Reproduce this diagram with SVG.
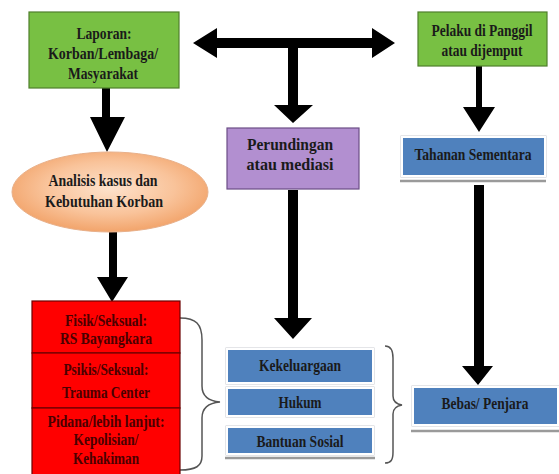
<svg xmlns="http://www.w3.org/2000/svg" width="559" height="474" viewBox="0 0 559 474">
<style>
text{font-family:"Liberation Serif","Times New Roman",serif;font-weight:bold;font-size:16px;text-anchor:middle;fill:#1a1a1a}
.green{fill:#78c043;stroke:#4f7f2c;stroke-width:1.2}
.purple{fill:#b28fd0;stroke:#6c4e86;stroke-width:1.2}
.blue{fill:#4f81bd;stroke:#ffffff;stroke-width:2}
.blueo{fill:none;stroke:#c9ccd2;stroke-width:1}
.shadow{stroke:#9a9a9a;stroke-width:2.5}
.red{fill:#ff0000;stroke:#6b0000;stroke-width:1.2}
.rt{fill:#4a0000}
.arr{fill:#000}
.brace{fill:none;stroke:#555;stroke-width:1.5}
</style>
<defs>
<radialGradient id="peach" cx="50%" cy="45%" r="55%">
<stop offset="0" stop-color="#fde2cc"/>
<stop offset="0.6" stop-color="#f9c39a"/>
<stop offset="1" stop-color="#f2a46b"/>
</radialGradient>
</defs>
<rect width="559" height="474" fill="#fff"/>

<g id="connectors">
<polygon class="arr" points="193,43 217,28 217,38 372,38 372,28 395,43 372,58 372,48 298,48 298,105 313,105 293,123 274,105 288,105 288,48 217,48 217,58"/>
<polygon class="arr" points="102,88 110,88 110,117 125,117 107,152 90,117 102,117"/>
<polygon class="arr" points="109,232 117,232 117,277 128,277 112,302 97,277 109,277"/>
<polygon class="arr" points="288,190 298,190 298,318 312,318 293,339 274,318 288,318"/>
<polygon class="arr" points="476,66 482,66 482,107 495,107 479,132 463,107 476,107"/>
<polygon class="arr" points="474,185 484,185 484,366 493,366 478,385 462,366 474,366"/>
<path class="brace" d="M180,318 C196,318 202,324 202,340 L202,386 C202,396 208,401 220,402 C208,403 202,408 202,418 L202,456 C202,466 196,470 180,470"/>
<path class="brace" d="M385,346 C391,346 393,350 393,358 L393,396 C393,401 396,404 402,405 C396,406 393,409 393,414 L393,452 C393,460 391,463 385,463"/>
</g>

<g id="laporan">
<rect class="green" x="29" y="12" width="150" height="76"/>
<text x="104" y="39" textLength="55" lengthAdjust="spacingAndGlyphs">Laporan:</text>
<text x="103" y="59" textLength="110" lengthAdjust="spacingAndGlyphs">Korban/Lembaga/</text>
<text x="103" y="79" textLength="70" lengthAdjust="spacingAndGlyphs">Masyarakat</text>
</g>

<g id="pelaku">
<rect class="green" x="418" y="12" width="129" height="54"/>
<text x="482" y="36" textLength="101" lengthAdjust="spacingAndGlyphs">Pelaku di Panggil</text>
<text x="482" y="56" textLength="81" lengthAdjust="spacingAndGlyphs">atau dijemput</text>
</g>

<g id="analisis">
<ellipse cx="110" cy="192" rx="98" ry="40" fill="url(#peach)" stroke="#e8b08a" stroke-width="1"/>
<text x="103" y="186" textLength="109" lengthAdjust="spacingAndGlyphs">Analisis  kasus dan</text>
<text x="104" y="207" textLength="118" lengthAdjust="spacingAndGlyphs">Kebutuhan Korban</text>
</g>

<g id="perundingan">
<rect class="purple" x="227" y="128" width="132" height="61"/>
<text x="290" y="150" textLength="86" lengthAdjust="spacingAndGlyphs">Perundingan</text>
<text x="290" y="170" textLength="87" lengthAdjust="spacingAndGlyphs">atau mediasi</text>
</g>

<g id="tahanan">
<line class="shadow" x1="400" y1="181" x2="546" y2="181"/>
<rect class="blueo" x="401" y="136" width="145" height="41"/>
<rect class="blue" x="402" y="137" width="143" height="39"/>
<text x="473" y="160" textLength="117" lengthAdjust="spacingAndGlyphs">Tahanan Sementara</text>
</g>

<g id="bebas">
<line class="shadow" x1="411" y1="431" x2="559" y2="431"/>
<rect class="blueo" x="412" y="386" width="147" height="40"/>
<rect class="blue" x="413" y="387" width="145" height="38"/>
<text x="485" y="409" textLength="87" lengthAdjust="spacingAndGlyphs">Bebas/ Penjara</text>
</g>

<g id="kekeluargaan">
<rect class="blueo" x="226" y="348" width="148" height="36"/>
<rect class="blue" x="227" y="349" width="146" height="34"/>
<text x="300" y="371" textLength="82" lengthAdjust="spacingAndGlyphs">Kekeluargaan</text>
</g>
<g id="hukum">
<rect class="blueo" x="226" y="387" width="148" height="30"/>
<rect class="blue" x="227" y="388" width="146" height="28"/>
<text x="300" y="408" textLength="43" lengthAdjust="spacingAndGlyphs">Hukum</text>
</g>
<g id="bantuan">
<line class="shadow" x1="225" y1="458" x2="375" y2="458"/>
<rect class="blueo" x="226" y="426" width="148" height="29"/>
<rect class="blue" x="227" y="427" width="146" height="27"/>
<text x="300" y="447" textLength="87" lengthAdjust="spacingAndGlyphs">Bantuan Sosial</text>
</g>

<g id="fisik">
<rect class="red" x="32" y="301" width="148" height="52"/>
<text class="rt" x="106" y="326" textLength="82" lengthAdjust="spacingAndGlyphs">Fisik/Seksual:</text>
<text class="rt" x="106" y="344" textLength="92" lengthAdjust="spacingAndGlyphs">RS Bayangkara</text>
</g>
<g id="psikis">
<rect class="red" x="32" y="353" width="148" height="55"/>
<text class="rt" x="106" y="375" textLength="85" lengthAdjust="spacingAndGlyphs">Psikis/Seksual:</text>
<text class="rt" x="106" y="398" textLength="88" lengthAdjust="spacingAndGlyphs">Trauma Center</text>
</g>
<g id="pidana">
<rect class="red" x="32" y="408" width="148" height="70"/>
<text class="rt" x="106" y="427" textLength="117" lengthAdjust="spacingAndGlyphs">Pidana/lebih lanjut:</text>
<text class="rt" x="106" y="445" textLength="65" lengthAdjust="spacingAndGlyphs">Kepolisian/</text>
<text class="rt" x="106" y="464" textLength="66" lengthAdjust="spacingAndGlyphs">Kehakiman</text>
</g>
</svg>
